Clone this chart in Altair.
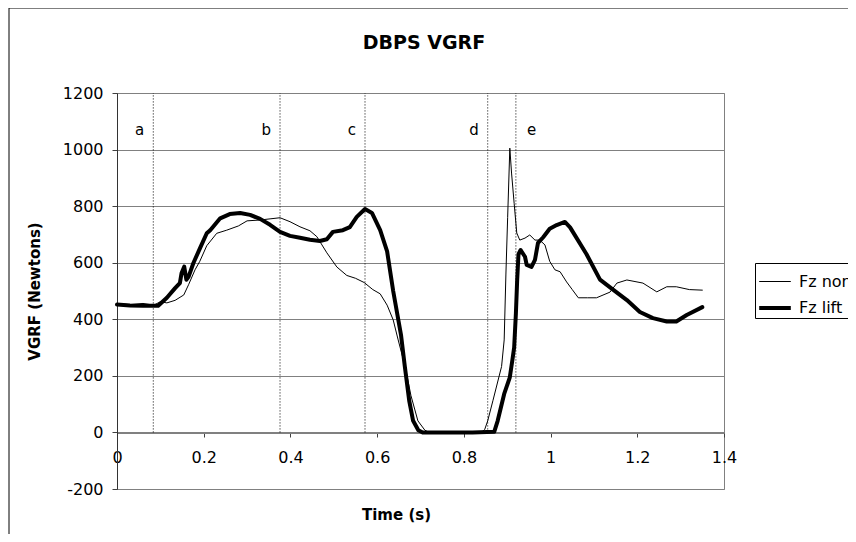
import altair as alt
import pandas as pd

title_text = "DBPS VGRF"
x_title = "Time (s)"
y_title = "VGRF (Newtons)"
series_names = ["Fz nonlift", "Fz lift"]

time_non = [0.000, 0.030, 0.060, 0.085, 0.100, 0.115, 0.134, 0.154, 0.165, 0.180, 0.191, 0.207, 0.230, 0.253,
            0.280, 0.300, 0.330, 0.353, 0.376, 0.399, 0.422, 0.445, 0.461, 0.484, 0.507, 0.530, 0.550, 0.570,
            0.590, 0.607, 0.623, 0.637, 0.648, 0.665, 0.678, 0.694, 0.710, 0.720, 0.780, 0.840, 0.848, 0.855,
            0.867, 0.887, 0.893, 0.897, 0.901, 0.906, 0.910, 0.916, 0.922, 0.929, 0.941, 0.952, 0.964, 0.975,
            0.987, 0.998, 1.010, 1.022, 1.037, 1.050, 1.064, 1.085, 1.106, 1.137, 1.153, 1.176, 1.213, 1.245,
            1.268, 1.290, 1.320, 1.350]
force_non = [455, 452, 456, 450, 462, 458, 467, 486, 522, 575, 605, 660, 704, 715,
             730, 748, 751, 755, 759, 745, 727, 713, 692, 635, 585, 555, 545, 530,
             505, 490, 450, 398, 330, 230, 130, 41, 8, 0, 0, 0, 10, 41,
             112, 233, 327, 560, 760, 1005, 917, 810, 705, 680, 687, 698, 680, 680,
             663, 605, 575, 568, 532, 505, 476, 476, 476, 496, 528, 539, 528, 497,
             515, 515, 505, 503]

time_lift = [0.000, 0.030, 0.060, 0.095, 0.115, 0.134, 0.145, 0.149, 0.155, 0.160, 0.165, 0.176, 0.191, 0.207,
             0.215, 0.238, 0.260, 0.284, 0.307, 0.330, 0.353, 0.376, 0.399, 0.422, 0.445, 0.468, 0.484, 0.498,
             0.521, 0.537, 0.553, 0.572, 0.588, 0.607, 0.623, 0.637, 0.655, 0.664, 0.674, 0.683, 0.695, 0.705,
             0.760, 0.820, 0.870, 0.878, 0.893, 0.906, 0.912, 0.916, 0.920, 0.923, 0.926, 0.931, 0.941, 0.945,
             0.956, 0.964, 0.971, 0.983, 0.998, 1.014, 1.033, 1.045, 1.083, 1.114, 1.144, 1.176, 1.206, 1.236,
             1.268, 1.290, 1.314, 1.350]
force_lift = [452, 449, 448, 448, 476, 510, 528, 564, 586, 540, 550, 598, 650, 704,
              715, 757, 772, 776, 769, 755, 734, 709, 695, 688, 681, 677, 683, 709,
              715, 726, 762, 790, 776, 715, 640, 500, 345, 231, 112, 41, 8, 0,
              0, 0, 2, 41, 136, 195, 257, 300, 420, 540, 630, 645, 621, 592,
              585, 610, 670, 690, 720, 733, 744, 725, 630, 540, 505, 468, 426, 404,
              392, 392, 415, 443]

event_times = [0.0837, 0.376, 0.572, 0.855, 0.920]
event_labels = ["a", "b", "c", "d", "e"]

x_ticks = [0, 0.2, 0.4, 0.6, 0.8, 1.0, 1.2, 1.4]
y_ticks = [-200, 0, 200, 400, 600, 800, 1000, 1200]

FONT = "DejaVu Sans"
W, H = 607, 396

lines_df = pd.concat([
    pd.DataFrame({"t": time_non, "f": force_non, "series": series_names[0]}),
    pd.DataFrame({"t": time_lift, "f": force_lift, "series": series_names[1]}),
], ignore_index=True)
events_df = pd.DataFrame({"t": event_times, "label": event_labels})
one = pd.DataFrame({"k": [0]})

x_scale = alt.Scale(domain=[0, 1.4], nice=False, zero=False)
y_scale = alt.Scale(domain=[-200, 1200], nice=False, zero=False)

x_axis = alt.Axis(values=x_ticks, labelExpr="'' + datum.value", title=x_title, offset=-56,
                  domainColor="#808080", domainWidth=1, tickColor="#404040", tickSize=4,
                  labelPadding=12, labelFontSize=16, labelColor="black", labelFont=FONT,
                  labelFlush=False, labelOverlap=False, labelBound=False, grid=False,
                  titleFont=FONT, titleFontSize=15, titleFontWeight="bold", titleColor="black",
                  titleX=279, titleY=74, titleBaseline="top")
y_axis = alt.Axis(values=y_ticks, labelExpr="'' + datum.value", title=y_title, grid=True,
                  gridColor="#808080", gridWidth=1,
                  domainColor="#333333", domainWidth=1, tickColor="#404040", tickSize=5,
                  labelPadding=9, labelFontSize=16, labelColor="black", labelFont=FONT,
                  labelOverlap=False, labelBound=False,
                  titleFont=FONT, titleFontSize=15, titleFontWeight="bold", titleColor="black",
                  titleX=-75, titleY=H / 2, titleAngle=-90, titleBaseline="bottom", titleAlign="center")

X = alt.X("t:Q", scale=x_scale, axis=x_axis)
Y = alt.Y("f:Q", scale=y_scale, axis=y_axis)

border = alt.Chart(one).mark_rect(fill="transparent", stroke="black", strokeWidth=1).encode(
    x=alt.value(-108), x2=alt.value(800), y=alt.value(-85), y2=alt.value(470))

rules = alt.Chart(events_df).mark_rule(color="black", strokeDash=[1, 2], strokeWidth=1).encode(
    x=X, y=alt.datum(0), y2=alt.datum(1200))

letters_left = alt.Chart(events_df).transform_filter("datum.label != 'e'").mark_text(
    align="right", baseline="middle", dx=-9, font=FONT, fontSize=15, color="black").encode(
    x=X, y=alt.datum(1070), text="label:N")
letters_right = alt.Chart(events_df).transform_filter("datum.label == 'e'").mark_text(
    align="left", baseline="middle", dx=11, font=FONT, fontSize=15, color="black").encode(
    x=X, y=alt.datum(1070), text="label:N")

lines = alt.Chart(lines_df).mark_line(color="black", strokeJoin="round", strokeCap="round").encode(
    x=X, y=Y,
    strokeWidth=alt.StrokeWidth("series:N",
                                scale=alt.Scale(domain=series_names, range=[1, 4]),
                                legend=alt.Legend(title=None, orient="none", legendX=638, legendY=170,
                                                  symbolType="stroke", symbolStrokeColor="black",
                                                  symbolSize=1000, labelFont=FONT, labelFontSize=16,
                                                  labelColor="black", labelOffset=6,
                                                  strokeColor="black", fillColor="white",
                                                  padding=2, rowPadding=-10)),
)

title = alt.Chart(one).mark_text(text=title_text, font=FONT, fontSize=19, fontWeight="bold",
                                  color="black", align="center", baseline="middle").encode(
    x=alt.value(307), y=alt.value(-50))

chart = alt.layer(border, rules, letters_left, letters_right, lines, title).properties(
    width=W, height=H,
    autosize=alt.AutoSizeParams(type="none"),
    padding={"left": 109, "top": 85, "right": 124, "bottom": 45},
    background="white",
).configure_view(stroke="#808080", strokeWidth=1)

chart.save("out.html", embed_options={"renderer": "svg", "actions": False})
